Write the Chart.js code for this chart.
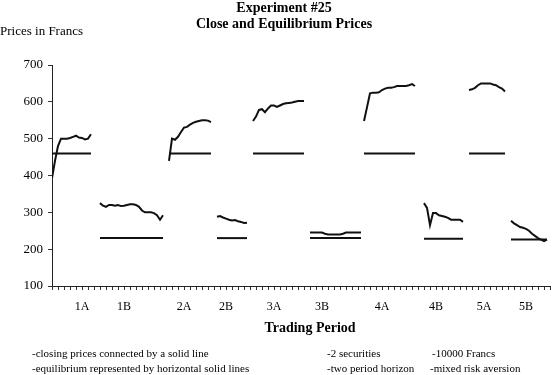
<!DOCTYPE html>
<html>
<head>
<meta charset="utf-8">
<script src="https://cdn.jsdelivr.net/npm/chart.js@4.4.1/dist/chart.umd.min.js"></script>
<style>
  html, body { margin: 0; padding: 0; background: #fff; }
  #wrap { width: 553px; height: 375px; position: relative; }
</style>
</head>
<body>
<div id="wrap"><canvas id="myChart"></canvas></div>
<script>
// Periodos de negociación y posición de su etiqueta en el eje X (índice de transacción)
const periodLabels = ['1A', '1B', '2A', '2B', '3A', '3B', '4A', '4B', '5A', '5B'];
const labelAt = [10, 24, 44, 58, 74, 90, 110, 128, 144, 158];

// Índice de la primera transacción de cada periodo
const startAt = [0, 16, 39, 55, 67, 86, 104, 124, 139, 153];

// Precios de cierre por periodo
const close1A = [393, 440, 480, 500, 500, 500, 502, 505, 508, 503, 502, 498, 500, 512];
const close1B = [325, 318, 315, 320, 320, 318, 320, 317, 318, 320, 322, 322, 320, 315, 305, 300, 300, 300, 298, 292, 280, 292];
const close2A = [440, 500, 497, 505, 518, 530, 532, 538, 543, 546, 548, 550, 550, 549, 545];
const close2B = [288, 290, 286, 283, 280, 278, 279, 276, 274, 271, 272];
const close3A = [548, 560, 578, 580, 572, 582, 590, 590, 586, 590, 594, 596, 597, 598, 600, 602, 602, 602];
const close3B = [245, 245, 245, 245, 245, 242, 240, 240, 240, 240, 240, 242, 245, 245, 245, 245, 245, 245];
const close4A = [548, 585, 623, 625, 625, 626, 632, 636, 638, 638, 640, 643, 643, 643, 643, 645, 648, 643];
const close4B = [325, 312, 265, 298, 298, 292, 290, 288, 285, 280, 280, 280, 280, 274];
const close5A = [632, 634, 638, 645, 650, 650, 650, 650, 647, 645, 640, 636, 628];
const close5B = [277, 270, 265, 260, 258, 255, 250, 242, 236, 230, 226, 222, 226];

// Precio de equilibrio de cada periodo
const equilibrium = [460, 230, 460, 230, 460, 230, 460, 228, 460, 226];

const closeSeries = [close1A, close1B, close2A, close2B, close3A, close3B, close4A, close4B, close5A, close5B];

const serif = "'Liberation Serif', 'DejaVu Serif', serif";
const ink = '#111';

// Armamos los datasets: una línea de cierre y una de equilibrio por periodo
const datasets = [];
closeSeries.forEach((serie, p) => {
    datasets.push({
        label: 'Cierre ' + periodLabels[p],
        data: serie.map((v, i) => ({ x: startAt[p] + i, y: v })),
        borderColor: ink,
        borderWidth: 2,
        pointRadius: 0,
        tension: 0
    });
    datasets.push({
        label: 'Equilibrio ' + periodLabels[p],
        data: serie.map((v, i) => ({ x: startAt[p] + i, y: equilibrium[p] })),
        borderColor: ink,
        borderWidth: 2,
        pointRadius: 0
    });
});

// Textos fuera del área del gráfico
const textPlugin = {
    id: 'textos',
    afterDraw(chart) {
        const c = chart.ctx;
        c.save();
        c.fillStyle = '#000';
        c.textBaseline = 'middle';

        c.font = 'bold 14px ' + serif;
        c.textAlign = 'center';
        c.fillText('Experiment #25', 284, 8);
        c.fillText('Close and Equilibrium Prices', 284, 24);

        c.font = '13px ' + serif;
        c.textAlign = 'left';
        c.fillText('Prices in Francs', 0, 32);

        c.font = 'bold 14px ' + serif;
        c.textAlign = 'center';
        c.fillText('Trading Period', 310, 328);

        c.font = '11px ' + serif;
        c.textAlign = 'left';
        c.fillText('-closing prices connected by a solid line', 32, 354);
        c.fillText('-equilibrium represented by horizontal solid lines', 32, 369);
        c.fillText('-2 securities', 327, 354);
        c.fillText('-10000 Francs', 432, 354);
        c.fillText('-two period horizon', 327, 369);
        c.fillText('-mixed risk aversion', 430, 369);
        c.restore();
    }
};

const ctx = document.getElementById('myChart').getContext('2d');
const myChart = new Chart(ctx, {
    type: 'line',
    data: { datasets: datasets },
    options: {
        responsive: true,
        maintainAspectRatio: false,
        animation: false,
        layout: { padding: { top: 65, right: 3, left: 0, bottom: 0 } },
        plugins: {
            legend: { display: false },
            tooltip: { enabled: false }
        },
        scales: {
            x: {
                type: 'linear',
                min: 0,
                max: 166,
                afterFit: (scale) => {
                    scale.height = 89;
                    // sin margen extra a los lados del eje
                    scale.paddingLeft = 0;
                    scale.paddingRight = 0;
                },
                border: { display: true, color: '#222', width: 1 },
                grid: { drawOnChartArea: false, drawTicks: true, tickLength: 4, color: '#333' },
                ticks: {
                    stepSize: 2,
                    autoSkip: false,
                    maxRotation: 0,
                    padding: 10,
                    color: '#000',
                    font: { family: serif, size: 12 },
                    callback: (v) => {
                        const k = labelAt.indexOf(v);
                        return k >= 0 ? periodLabels[k] : '';
                    }
                }
            },
            y: {
                min: 100,
                max: 700,
                afterFit: (scale) => { scale.width = 52; },
                border: { display: true, color: '#222', width: 1 },
                grid: { drawOnChartArea: false, drawTicks: true, tickLength: 4, color: '#333' },
                ticks: {
                    stepSize: 100,
                    padding: 5,
                    color: '#000',
                    font: { family: serif, size: 13 }
                }
            }
        }
    },
    plugins: [textPlugin]
});
</script>
</body>
</html>
